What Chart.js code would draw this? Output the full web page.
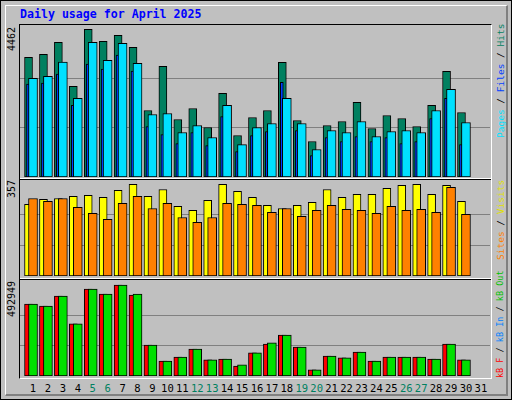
<!DOCTYPE html>
<html>
<head>
<meta charset="utf-8">
<script src="https://cdn.jsdelivr.net/npm/chart.js@4.4.1/dist/chart.umd.min.js"></script>
<style>
  body { margin: 0; background: #c0c0c0; }
  #frame { position: absolute; left: 0; top: 0; width: 510px; height: 398px; border: 1px solid #000; background: #c0c0c0; }
  #inner { position: absolute; left: 4px; top: 4px; width: 500px; height: 388px; border-top: 1px solid #fff; border-left: 1px solid #fff; border-right: 2px solid #808080; border-bottom: 2px solid #808080; }
  #plot { position: absolute; left: 19px; top: 24px; width: 471px; height: 353px; border-top: 1px solid #000; border-left: 1px solid #000; border-right: 1px solid #fff; border-bottom: 1px solid #fff; }
  .sep { position: absolute; left: 20px; width: 471px; height: 1px; }
  canvas { position: absolute; left: 20px; }
  .txt { position: absolute; font-family: "DejaVu Sans Mono", monospace; white-space: nowrap; }
  .rot { transform-origin: 0 0; transform: rotate(-90deg); }
  #title { left: 20px; top: 7px; color: #0000ff; font-weight: bold; font-size: 11.6px; }
</style>
</head>
<body>
<div id="frame"><div id="inner"></div></div>
<div id="plot"></div>
<div class="sep" style="top:178px;background:#fff"></div>
<div class="sep" style="top:179px;background:#000"></div>
<div class="sep" style="top:278px;background:#fff"></div>
<div class="sep" style="top:279px;background:#000"></div>
<div id="title" class="txt">Daily usage for April 2025</div>

<div class="txt rot" style="left:6px;top:51px;font-size:10px">4462</div>
<div class="txt rot" style="left:6px;top:198px;font-size:10px">357</div>
<div class="txt rot" style="left:6px;top:317px;font-size:10px">492949</div>

<div class="txt rot" style="left:495px;top:138px;font-size:9.5px"><span style="color:#00e0ff">Pages</span> / <span style="color:#0040ff">Files</span> / <span style="color:#008060">Hits</span></div>
<div class="txt rot" style="left:495px;top:260px;font-size:9.5px"><span style="color:#ff8000">Sites</span> / <span style="color:#e0e000">Visits</span></div>
<div class="txt rot" style="left:495px;top:378px;font-size:8.5px"><span style="color:#ff0000">kB F</span> / <span style="color:#0080ff">kB In</span> / <span style="color:#00c000">kB Out</span></div>

<canvas id="c1" width="470" height="152" style="top:25px"></canvas>
<canvas id="c2" width="470" height="95" style="top:181px"></canvas>
<canvas id="c3" width="470" height="95" style="top:281px"></canvas>
<div id="days"></div>

<script>
const days = Array.from({ length: 31 }, (_, i) => i + 1);
const weekendDays = [5, 6, 12, 13, 19, 20, 26, 27];

const hits = [3617, 3708, 4071, 2738, 4462, 4101, 4283, 3920, 2011, 3344, 1739, 2072, 1496, 2526, 1254,
  1799, 2011, 3465, 1708, 1072, 1557, 1678, 2254, 1466, 1860, 1769, 1527, 2163, 3193, 1951];
const files = [2808, 2838, 3111, 2163, 3414, 3262, 3686, 3202, 1527, 1284, 1012, 1345, 951, 1830, 769,
  1254, 1375, 2859, 1405, 648, 1193, 1072, 1224, 1072, 1193, 1012, 1072, 1769, 2375, 981];
const pages = [2981, 3041, 3474, 2375, 4071, 3526, 4041, 3435, 1890, 1920, 1345, 1557, 1193, 2163, 981,
  1496, 1617, 2375, 1617, 830, 1405, 1345, 1678, 1224, 1375, 1405, 1345, 2011, 2647, 1648];

const visits = [279, 299, 302, 310, 314, 306, 334, 357, 310, 337, 271, 256, 295, 357, 330,
  306, 275, 263, 275, 287, 337, 306, 318, 318, 341, 353, 357, 318, 353, 291];
const sites = [302, 291, 302, 267, 244, 221, 283, 310, 263, 283, 228, 209, 228, 283, 279,
  275, 248, 263, 232, 256, 275, 260, 256, 244, 271, 256, 260, 248, 345, 240];

const kbF = [390000, 379000, 433000, 282000, 471000, 444000, 492949, 439000, 168000, 81000, 103000, 146000, 87000, 92000, 54000,
  125000, 173000, 222000, 157000, 33000, 108000, 98000, 130000, 81000, 103000, 103000, 103000, 92000, 173000, 87000];
const kbOut = [390000, 379000, 433000, 282000, 471000, 444000, 492949, 444000, 168000, 81000, 103000, 146000, 87000, 92000, 60000,
  125000, 179000, 222000, 157000, 33000, 108000, 98000, 130000, 81000, 103000, 103000, 103000, 92000, 173000, 87000];

const xMin = 0.129, xMax = 31.61;

function pts(values, shift) {
  return values.map((v, i) => ({ x: days[i] + shift, y: v }));
}

function bars(values, shift, color, width, order) {
  return {
    data: pts(values, shift),
    backgroundColor: color,
    borderColor: '#000',
    borderWidth: 1,
    borderSkipped: false,
    barThickness: width,
    order: order
  };
}

function makeChart(id, datasets, yMax, gridVals) {
  return new Chart(document.getElementById(id), {
    type: 'bar',
    data: { datasets: datasets },
    options: {
      responsive: false,
      animation: false,
      devicePixelRatio: 1,
      grouped: false,
      layout: { padding: 0 },
      plugins: { legend: { display: false }, tooltip: { enabled: false } },
      scales: {
        x: { type: 'linear', min: xMin, max: xMax, offset: false, display: false },
        y: {
          min: 0, max: yMax,
          border: { display: false },
          ticks: { display: false },
          grid: { color: '#808080', drawTicks: false, lineWidth: 1 },
          afterBuildTicks: axis => { axis.ticks = gridVals.map(v => ({ value: v })); }
        }
      }
    }
  });
}

makeChart('c1', [
  bars(hits, -0.3, '#008060', 8, 3),
  bars(files, -0.335, '#0040ff', 3, 2),
  bars(pages, 0, '#00e0ff', 9, 1)
], 4595, [4462 / 3, 4462 * 2 / 3]);

makeChart('c2', [
  bars(visits, -0.3, '#ffff00', 8, 2),
  bars(sites, 0, '#ff8000', 9, 1)
], 370, [119, 238]);

const bottom = makeChart('c3', [
  bars(kbF, -0.3, '#ff0000', 8, 2),
  bars(kbOut, 0, '#00e000', 9, 1)
], 514600, [492949 / 3, 492949 * 2 / 3]);

// day numbers under the bottom panel, placed by the x scale
const dayBox = document.getElementById('days');
days.forEach(d => {
  const s = document.createElement('div');
  s.className = 'txt';
  s.textContent = d;
  s.style.fontSize = '10.5px';
  s.style.top = '382px';
  s.style.color = weekendDays.includes(d) ? '#008060' : '#000';
  const px = 20 + bottom.scales.x.getPixelForValue(d);
  s.style.left = (px - (String(d).length * 6.3) / 2) + 'px';
  dayBox.appendChild(s);
});
</script>
</body>
</html>
